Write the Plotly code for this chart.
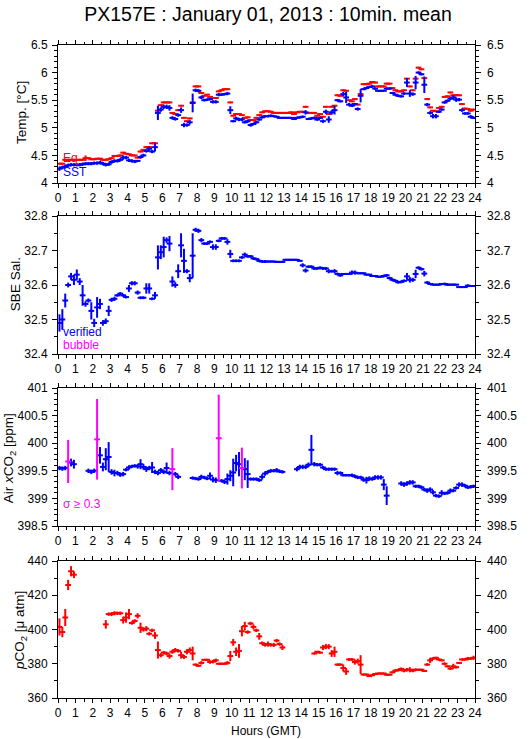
import plotly.graph_objects as go

# ---------------- data (10-min means, 6 values per hour, 24 hours) ----------------
HOUR_TICKS = list(range(0, 25))

sst_h = [
    [4.26, 4.28, 4.30, 4.32, 4.33, 4.33],
    [4.33, 4.33, 4.34, 4.35, 4.35, 4.35],
    [4.36, 4.36, 4.37, 4.35, 4.33, 4.34],
    [4.38, 4.40, 4.40, 4.42, 4.46, 4.46],
    [4.41, 4.40, 4.39, 4.40, 4.47, 4.50],
    [4.58, 4.62, 4.57, 4.65, 5.27, 5.33],
    [5.38, 5.38, 5.36, 5.18, 5.16, 5.23],
    [5.32, 5.05, 5.05, 5.10, 5.45, 5.68],
    [5.67, 5.55, 5.50, 5.51, 5.52, 5.47],
    [5.47, 5.60, 5.60, 5.61, 5.62, 5.32],
    [5.12, 5.17, 5.15, 5.15, 5.10, 5.12],
    [5.05, 5.07, 5.10, 5.15, 5.19, 5.21],
    [5.21, 5.22, 5.21, 5.20, 5.18, 5.18],
    [5.18, 5.18, 5.18, 5.16, 5.18, 5.19],
    [5.20, 5.28, 5.16, 5.17, 5.18, 5.15],
    [5.18, 5.12, 5.29, 5.15, 5.28, 5.32],
    [5.50, 5.48, 5.61, 5.55, 5.42, 5.40],
    [5.43, 5.34, 5.58, 5.70, 5.72, 5.74],
    [5.75, 5.71, 5.67, 5.67, 5.67, 5.71],
    [5.71, 5.63, 5.60, 5.58, 5.57, 5.62],
    [5.82, 5.62, 5.61, 5.82, 6.00, 5.97],
    [5.78, 5.42, 5.27, 5.21, 5.21, 5.29],
    [5.33, 5.46, 5.49, 5.53, 5.55, 5.51],
    [5.51, 5.32, 5.26, 5.26, 5.20, 5.18],
]
sst_err_h = [
    [.04, .03, .03, .03, .03, .03], [.03, .03, .03, .03, .03, .03],
    [.03, .03, .03, .03, .03, .03], [.03, .03, .03, .03, .04, .03],
    [.03, .03, .03, .02, .03, .03], [.03, .04, .03, .08, .13, .04],
    [.04, .04, .05, .03, .03, .03], [.05, .04, .03, .04, .17, .03],
    [.03, .03, .02, .02, .02, .03], [.03, .03, .02, .02, .03, .07],
    [.02, .03, .03, .03, .02, .03], [.03, .02, .02, .02, .02, .02],
    [.02, .02, 0, 0, 0, 0], [0, 0, 0, .02, .02, .02],
    [.02, .04, .02, .02, .02, .02], [.02, .03, .04, .06, .04, .08],
    [.02, .02, .04, .10, .03, .02], [.02, .03, .12, 0, .02, .02],
    [.02, .02, 0, 0, 0, .02], [.02, .02, .02, .02, .02, .02],
    [.08, .06, .03, .12, .02, .02], [.15, .03, .03, .04, .04, .02],
    [.02, .02, .02, .03, .04, .04], [.03, .03, .02, .02, .03, .02],
]
eq_h = [
    [4.35, 4.35, 4.42, 4.42, 4.42, 4.42],
    [4.42, 4.42, 4.42, 4.45, 4.45, 4.43],
    [4.43, 4.44, 4.44, 4.42, 4.42, 4.43],
    [4.45, 4.49, 4.49, 4.50, 4.55, 4.53],
    [4.52, 4.50, 4.50, 4.46, 4.57, 4.60],
    [4.65, 4.65, 4.72, 4.72, 5.31, 5.41],
    [5.46, 5.46, 5.46, 5.27, 5.25, 5.32],
    [5.40, 5.18, 5.12, 5.17, 5.46, 5.75],
    [5.75, 5.63, 5.58, 5.60, 5.56, 5.54],
    [5.54, 5.66, 5.68, 5.70, 5.70, 5.46],
    [5.22, 5.25, 5.25, 5.23, 5.18, 5.19],
    [5.14, 5.14, 5.18, 5.23, 5.28, 5.30],
    [5.30, 5.29, 5.27, 5.27, 5.27, 5.27],
    [5.27, 5.27, 5.28, 5.25, 5.28, 5.29],
    [5.29, 5.38, 5.27, 5.27, 5.27, 5.22],
    [5.25, 5.20, 5.38, 5.25, 5.38, 5.40],
    [5.59, 5.58, 5.68, 5.67, 5.50, 5.48],
    [5.52, 5.42, 5.61, 5.79, 5.79, 5.80],
    [5.83, 5.82, 5.75, 5.75, 5.75, 5.80],
    [5.80, 5.72, 5.68, 5.66, 5.66, 5.68],
    [5.89, 5.75, 5.68, 5.89, 6.09, 6.06],
    [5.90, 5.52, 5.37, 5.31, 5.30, 5.36],
    [5.38, 5.56, 5.57, 5.64, 5.59, 5.59],
    [5.59, 5.43, 5.35, 5.34, 5.31, 5.33],
]
eq_err_h = [[0] * 6 for _ in range(24)]
eq_err_h[1][3] = 0.05

sal_h = [
    [32.49, 32.50, 32.555, 32.60, 32.625, 32.615],
    [32.63, 32.61, 32.57, 32.545, 32.555, 32.525],
    [32.49, 32.535, 32.545, 32.49, 32.495, 32.525],
    [32.557, 32.56, 32.57, 32.575, 32.57, 32.565],
    [32.59, 32.605, 32.605, 32.578, 32.563, 32.563],
    [32.59, 32.59, 32.56, 32.57, 32.68, 32.695],
    [32.71, 32.73, 32.72, 32.61, 32.60, 32.64],
    [32.715, 32.67, 32.64, 32.62, 32.685, 32.76],
    [32.757, 32.73, 32.72, 32.72, 32.725, 32.71],
    [32.71, 32.728, 32.735, 32.735, 32.725, 32.69],
    [32.67, 32.67, 32.67, 32.68, 32.688, 32.683],
    [32.683, 32.677, 32.675, 32.67, 32.668, 32.668],
    [32.668, 32.668, 32.668, 32.667, 32.667, 32.667],
    [32.673, 32.673, 32.673, 32.673, 32.673, 32.67],
    [32.657, 32.642, 32.653, 32.653, 32.648, 32.648],
    [32.650, 32.648, 32.648, 32.640, 32.640, 32.640],
    [32.632, 32.628, 32.632, 32.632, 32.632, 32.636],
    [32.636, 32.634, 32.634, 32.634, 32.63, 32.63],
    [32.626, 32.626, 32.624, 32.624, 32.626, 32.628],
    [32.62, 32.615, 32.612, 32.608, 32.609, 32.612],
    [32.625, 32.615, 32.615, 32.632, 32.65, 32.646],
    [32.633, 32.607, 32.603, 32.601, 32.601, 32.601],
    [32.603, 32.603, 32.601, 32.601, 32.601, 32.601],
    [32.594, 32.594, 32.594, 32.598, 32.597, 32.597],
]
sal_err_h = [
    [.025, .03, .02, .007, .01, .015], [.015, .01, .03, .008, .006, .025],
    [.012, .03, .015, .008, .008, .015], [.006, .006, .004, .004, .004, .004],
    [.01, .006, .006, .006, .004, .004], [.015, .015, .004, .01, .035, .02],
    [.03, .008, .022, .015, .008, .02], [.035, .035, .006, .012, .065, .006],
    [.006, .006, .004, .004, .004, .008], [.008, .004, .004, .004, .008, .012],
    [.004, .004, .004, .004, .006, .004], [.004, .004, .004, .004, .004, .004],
    [0, 0, 0, 0, 0, 0], [0, 0, 0, 0, 0, 0],
    [.006, .006, .004, .004, .004, .004], [.004, .004, .004, .006, .004, .006],
    [.004, .004, 0, 0, 0, .006], [.006, 0, 0, 0, 0, 0],
    [0, 0, 0, 0, .004, .004], [.004, .004, .004, .004, .004, .004],
    [.01, .008, .006, .012, .004, .004], [.008, .004, 0, 0, 0, 0],
    [0, .004, .004, 0, 0, 0], [0, 0, 0, .004, 0, 0],
]

air_h = [
    [399.55, 399.54, 399.55, 399.67, 399.65, 399.62],
    [None, None, None, None, 399.50, 399.48],
    [399.50, 400.07, 399.78, 399.57, 399.71, 399.75],
    [399.48, 399.46, 399.46, 399.43, 399.44, 399.52],
    [399.56, 399.58, 399.59, 399.58, 399.62, 399.57],
    [399.53, 399.55, 399.56, 399.48, 399.46, 399.51],
    [399.48, 399.55, 399.46, 399.53, 399.44, 399.39],
    [None, None, None, None, 399.37, 399.36],
    [399.35, 399.39, 399.38, 399.36, 399.41, 399.34],
    [399.33, 400.09, 399.32, 399.30, 399.35, 399.41],
    [399.47, 399.64, 399.62, 399.55, 399.53, 399.44],
    [399.35, 399.35, 399.35, 399.33, 399.39, 399.45],
    [399.48, 399.50, 399.50, 399.51, 399.49, 399.48],
    [None, None, None, None, 399.53, 399.57],
    [399.57, 399.57, 399.61, 399.88, 399.62, 399.61],
    [399.61, 399.56, 399.53, 399.53, 399.53, 399.53],
    [399.46, 399.46, 399.42, 399.42, 399.42, 399.42],
    [399.40, 399.38, 399.38, 399.34, 399.33, 399.36],
    [399.35, 399.38, 399.38, 399.38, 399.25, 399.05],
    [None, None, None, None, 399.27, 399.25],
    [399.27, 399.29, 399.29, 399.22, 399.22, 399.20],
    [399.16, 399.14, 399.16, 399.11, 399.05, 399.04],
    [399.10, 399.09, 399.10, 399.14, 399.14, 399.19],
    [399.25, 399.25, 399.23, 399.20, 399.21, 399.22],
]
air_err_h = [
    [.04, .04, .04, .39, .07, .08], [0, 0, 0, 0, .04, .04],
    [.04, .73, .15, .08, .2, .27], [.05, .06, .04, .04, .04, .03],
    [.04, .03, .03, .04, .09, .05], [.05, .04, .1, .04, .04, .04],
    [.04, .1, .04, .38, .04, .04], [0, 0, 0, 0, .03, .03],
    [.03, .04, .03, .03, .06, .05], [.05, .79, .03, .04, .1, .1],
    [.25, .15, .22, .37, .2, .25], [.03, .03, .03, .03, .05, .04],
    [.03, .03, .03, .04, .03, .03], [0, 0, 0, 0, .04, .04],
    [.04, .04, .04, .27, .04, .03], [.03, .03, .03, .03, .03, .03],
    [.04, .03, .02, .02, .02, .03], [.03, .03, .03, .04, .06, .04],
    [.03, .04, .04, .04, .1, .17], [0, 0, 0, 0, .04, .04],
    [.04, .04, .04, .03, .03, .03], [.03, .04, .04, .04, .03, .03],
    [.05, .03, .03, .04, .03, .03], [.04, .04, .03, .03, .03, .03],
]
# indices (10-min slot numbers) of air samples with sigma >= 0.3
air_sigma_slots = [3, 13, 39, 55, 63]

pco2_h = [
    [401.5, 398.5, 407, 426, 434, 432],
    [None] * 6,
    [None, None, None, None, 403, 409],
    [409, 409.5, 409.5, 409.5, 405.5, 407],
    [409, 403.8, 405, 408, 401, 400],
    [400.5, 397.5, 399.5, 396.5, 388, 385],
    [386.5, 386, 384.5, 387, 388, 387.5],
    [385, 384, 387, 388, 386, 379.5],
    [378.8, 380.5, 382.3, 382.3, 381, 381.2],
    [382, 380, 380, 380, 380.5, 384.5],
    [392.5, 387, 387.5, 399, 402, 398.5],
    [403.5, 401.5, 399.5, 396, 392, 391],
    [391.5, 391, 391, 393.5, 391.5, 389.5],
    [None] * 6,
    [None, None, None, None, 386, 387],
    [386.5, 389.5, 390, 390, 386, 387],
    [379.5, 379.5, 377.5, 375.5, 382.5, 382.5],
    [381, 381.5, 379.5, 373.7, 373.7, 372.8],
    [373.3, 374, 374.3, 374.3, 374.3, 373.6],
    [373.6, 375, 376, 376.3, 377, 376],
    [376.5, 376.5, 376, 376.5, 376.5, 376.5],
    [375.8, 379.5, 382, 383, 383.5, 382.5],
    [382, 380, 378.5, 377.2, 378.5, 378],
    [380.5, 382.5, 382.5, 383, 383, 383.5],
]
pco2_err_h = [
    [5, 3, 5, 3, 3, 2], [0] * 6, [0, 0, 0, 0, 2.5, 1],
    [1.2, 1.2, 1, 1, 2, 3], [3, 1, 1, 1.5, 3, 1.2], [1.5, 1, 1, 2, 5, 1.2],
    [1, 1, 1.5, 1.2, 1.2, 1], [2, 1.2, 1.5, 1.5, 4, 0.5], [0.5, 1, 0.5, 0.5, 1, 1],
    [1, 0.5, 0.5, 0.5, 1, 3], [2, 2.5, 4, 3, 2.5, 1], [1, 1.5, 1, 2, 1, 1],
    [1.5, 1, 1.2, 1, 1, 1.5], [0] * 6, [0, 0, 0, 0, 0.5, 0.5],
    [0.5, 1.5, 1.5, 1.5, 2, 3], [0.5, 0.5, 2, 2, 0.8, 0.8], [1.5, 1.5, 5.5, 0.5, 0.3, 0.3],
    [0.3, 0.5, 0.3, 0.3, 0.3, 0.3], [0.3, 0.5, 0.8, 0.8, 0.8, 1], [1, 1.5, 1, 0.8, 0.5, 0.5],
    [0.5, 0.8, 1.5, 0.8, 0.5, 0.5], [0.5, 0.8, 0.5, 0.8, 1.5, 0.8], [0.5, 0.5, 0.5, 1, 0.8, 1.2],
]

# ---------------- helpers ----------------
def flat(h):
    return [v for row in h for v in row]

N = 144
xs = [(i + 0.5) / 6 for i in range(N)]
HALF_BIN = 1 / 6  # half-width of horizontal bar (hours)

sst, sst_err = flat(sst_h), flat(sst_err_h)
eq, eq_err = flat(eq_h), flat(eq_err_h)
sal, sal_err = flat(sal_h), flat(sal_err_h)
air_all, air_err = flat(air_h), flat(air_err_h)
pco2, pco2_err = flat(pco2_h), flat(pco2_err_h)

air_ok = [None if i in air_sigma_slots else v for i, v in enumerate(air_all)]
air_sig = [v if i in air_sigma_slots else None for i, v in enumerate(air_all)]

BLUE, RED, MAG = "#0000ff", "#ff0000", "#ff00ff"

fig = go.Figure()


def add_series(y, err, color, xa, ya):
    fig.add_trace(go.Scatter(
        x=xs, y=y, mode="markers", xaxis=xa, yaxis=ya,
        marker=dict(size=2, color=color),
        error_x=dict(type="data", array=[HALF_BIN] * N, color=color, thickness=2, width=0),
        error_y=dict(type="data", array=err, color=color, thickness=2, width=0),
        showlegend=False, hoverinfo="skip",
    ))


add_series(eq, eq_err, RED, "x", "y")
add_series(sst, sst_err, BLUE, "x", "y")
add_series(sal, sal_err, BLUE, "x2", "y2")
add_series(air_ok, air_err, BLUE, "x3", "y3")
add_series(air_sig, air_err, MAG, "x3", "y3")
add_series(pco2, pco2_err, RED, "x4", "y4")

# ---------------- layout ----------------
L, R, T, B = 58, 43, 45, 41
W, H = 529, 739
PH = H - T - B  # 653
BOT = H - B     # 698


def dom(top_px, bot_px):
    return [(BOT - bot_px) / PH, (BOT - top_px) / PH]


panels = [
    dict(dom=dom(45, 183), rng=[4, 6.5], dt=0.5, mdt=0.1),
    dict(dom=dom(216, 354), rng=[32.4, 32.8], dt=0.1, mdt=0.05),
    dict(dom=dom(388, 526), rng=[398.5, 401], dt=0.5, mdt=0.1),
    dict(dom=dom(561, 698), rng=[360, 440], dt=20, mdt=10),
]

FONT = "Liberation Sans, Arial, Helvetica, sans-serif"
layout = dict(
    width=W, height=H, autosize=False,
    margin=dict(l=L, r=R, t=T, b=B),
    paper_bgcolor="white", plot_bgcolor="white",
    font=dict(family=FONT, size=12, color="black"),
    showlegend=False,
    title=dict(text="PX157E : January 01, 2013 : 10min. mean", x=268 / W, xref="container",
               xanchor="center", y=1 - 14 / H, yref="container", yanchor="middle",
               font=dict(size=19.5, family=FONT, color="black")),
)

for k, p in enumerate(panels):
    n = "" if k == 0 else str(k + 1)
    layout["xaxis" + n] = dict(
        domain=[0, 1], anchor="y" + n, range=[0, 24], tickmode="array",
        tickvals=HOUR_TICKS, ticktext=[str(h) for h in HOUR_TICKS],
        ticks="outside", ticklen=4, tickcolor="black", tickwidth=1,
        minor=dict(dtick=0.5, tick0=0, ticks="outside", ticklen=2.5, tickcolor="black"),
        showline=True, linecolor="black", linewidth=1, mirror="ticks",
        showgrid=False, zeroline=False, tickfont=dict(size=12),
    )
    layout["yaxis" + n] = dict(
        domain=p["dom"], anchor="x" + n, range=p["rng"], dtick=p["dt"], tick0=p["rng"][0],
        ticks="outside", ticklen=5, tickcolor="black", tickwidth=1,
        minor=dict(dtick=p["mdt"], ticks="outside", ticklen=3, tickcolor="black"),
        showline=True, linecolor="black", linewidth=1, mirror="ticks",
        showgrid=False, zeroline=False, tickfont=dict(size=12), ticklabelstandoff=2,
    )
    rn = str(k + 5)
    layout["yaxis" + rn] = dict(
        overlaying="y" + n, side="right", anchor="x" + n, range=p["rng"], dtick=p["dt"],
        tick0=p["rng"][0], ticks="", showline=False, showgrid=False, zeroline=False,
        tickfont=dict(size=12), ticklabelstandoff=11,
    )
    fig.add_trace(go.Scatter(x=[0], y=[p["rng"][0]], mode="markers", marker=dict(opacity=0),
                             xaxis="x" + n, yaxis="y" + rn, showlegend=False, hoverinfo="skip"))

fig.update_layout(**layout)


def px_x(px):
    return (px - L) / (W - L - R)


def px_y(py):
    return (BOT - py) / PH


ann = []
for txt, xpx, ypx in [
    ("Temp. [°C]", 21, 112),
    ("SBE Sal.", 14, 284),
    ("Air <i>x</i>CO<sub>2</sub> [ppm]", 9, 458),
    ("<i>p</i>CO<sub>2</sub> [μ atm]", 19, 631),
]:
    ann.append(dict(text=txt, x=px_x(xpx), y=px_y(ypx), xref="paper", yref="paper",
                    textangle=-90, showarrow=False, xanchor="center", yanchor="middle",
                    font=dict(size=13.5)))

ann.append(dict(text="Hours (GMT)", x=px_x(271.5), y=px_y(731), xref="paper", yref="paper",
                showarrow=False, xanchor="center", yanchor="middle", font=dict(size=12)))

for txt, col, ypx in [("Eq", RED, 158), ("SST", BLUE, 172), ("verified", BLUE, 332),
                      ("bubble", MAG, 345), ("σ ≥ 0.3", MAG, 504)]:
    ann.append(dict(text=txt, x=px_x(61), y=px_y(ypx), xref="paper", yref="paper",
                    showarrow=False, xanchor="left", yanchor="middle",
                    font=dict(size=12, color=col)))

fig.update_layout(annotations=ann)
fig.write_html(
    "out.html",
    config={"displayModeBar": False, "staticPlot": True},
    post_script="document.body.style.margin='0';document.body.style.overflow='hidden';",
)
